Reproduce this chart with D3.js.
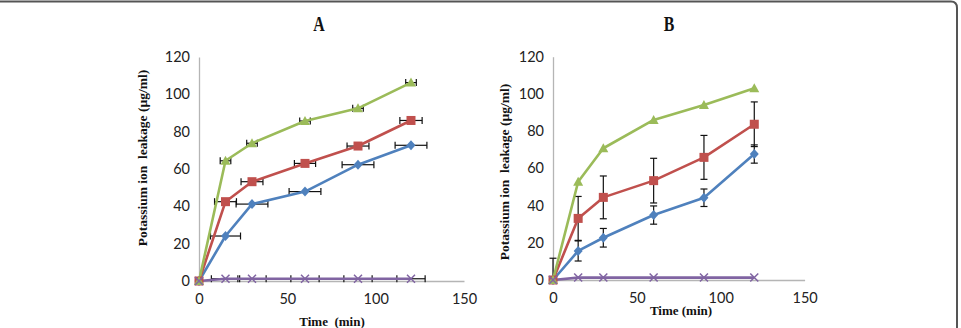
<!DOCTYPE html>
<html><head><meta charset="utf-8">
<script src="https://cdn.jsdelivr.net/npm/d3@7"></script>
<style>body{margin:0;background:#fff;}svg{display:block;} text{white-space:pre;}</style>
</head><body>
<svg id="c" width="961" height="328"></svg>
<script>
const timePoints = [0, 15, 30, 60, 90, 120];
const xTicks = [0, 50, 100, 150];
const yTicks = [0, 20, 40, 60, 80, 100, 120];
const panelTitles = ["A", "B"];
const yLabel = "Potassium ion  leakage (\u00b5g/ml)";
const xLabels = ["Time  (min)", "Time (min)"];

// Panel A values
const aBlue   = [0, 24.1, 41.2, 47.9, 62.3, 72.7];
const aRed    = [0, 42.5, 53.2, 63.0, 72.3, 86.0];
const aGreen  = [0, 64.4, 73.8, 85.7, 92.5, 106.3];
const aPurple = [0, 1.2, 1.2, 1.2, 1.2, 1.2];
// Panel A horizontal error (min)
const aBlueErrX   = [0, 8.5, 9, 9, 9, 9];
const aRedErrX    = [0, 6.2, 6.2, 6, 6.2, 6.3];
const aGreenErrX  = [0, 3, 3, 3, 3, 3];
const aPurpleErrX = [0, 8, 8, 8, 8, 8];

// Panel B values
const bBlue   = [0, 15.6, 22.7, 34.9, 44.2, 67.7];
const bRed    = [0, 33.1, 44.4, 53.4, 65.9, 83.7];
const bGreen  = [0, 52.8, 70.8, 86.0, 94.0, 103.0];
const bPurple = [0, 1.3, 1.3, 1.3, 1.3, 1.3];
// Panel B vertical error
const bBlueErrY = [0, 5.4, 5, 4.9, 4.7, 4.9];
const bRedErrY  = [11.7, 11.8, 11.5, 12, 11.8, 12];

const colors = {blue:"#4F81BD", red:"#C0504D", green:"#9BBB59", purple:"#8064A2"};

const svg = d3.select("#c");

// frame
svg.append("path")
  .attr("d", "M0,1.5 L951,1.5 Q957,1.5 957,8 L957,328")
  .attr("fill","none").attr("stroke","#555").attr("stroke-width",2);

const panels = [
  {title: panelTitles[0], titleX: 319, xr:[199,464], yr:[281,57], xlab: xLabels[0], xlabX: 332, xlabY: 326, ylabX: 147, ylabY: 158,
   series:[
     {vals:aBlue, c:colors.blue, m:"diamond", ex:aBlueErrX},
     {vals:aRed, c:colors.red, m:"square", ex:aRedErrX},
     {vals:aGreen, c:colors.green, m:"triangle", ex:aGreenErrX},
     {vals:aPurple, c:colors.purple, m:"x", ex:aPurpleErrX}
   ]},
  {title: panelTitles[1], titleX: 669, xr:[553,804.6], yr:[280,56.7], xlab: xLabels[1], xlabX: 681, xlabY: 315, ylabX: 509, ylabY: 172,
   series:[
     {vals:bBlue, c:colors.blue, m:"diamond", ey:bBlueErrY},
     {vals:bRed, c:colors.red, m:"square", ey:bRedErrY},
     {vals:bGreen, c:colors.green, m:"triangle"},
     {vals:bPurple, c:colors.purple, m:"x"}
   ]}
];

function marker(g, type, x, y, c){
  if(type==="diamond"){
    g.append("path").attr("d",`M${x},${y-5}L${x+4.5},${y}L${x},${y+5}L${x-4.5},${y}Z`).attr("fill",c);
  } else if(type==="square"){
    g.append("rect").attr("x",x-4.5).attr("y",y-4.5).attr("width",9).attr("height",9).attr("fill",c);
  } else if(type==="triangle"){
    g.append("path").attr("d",`M${x},${y-5}L${x+5},${y+4}L${x-5},${y+4}Z`).attr("fill",c);
  } else {
    g.append("path").attr("d",`M${x-4},${y-4}L${x+4},${y+4}M${x-4},${y+4}L${x+4},${y-4}`).attr("stroke",c).attr("stroke-width",1.5);
  }
}

panels.forEach(p => {
  const x = d3.scaleLinear().domain([0,150]).range(p.xr);
  const y = d3.scaleLinear().domain([0,120]).range(p.yr);
  const g = svg.append("g");

  g.append("text").attr("x",0).attr("y",0)
    .attr("transform",`translate(${p.titleX},31) scale(0.72,1)`)
    .attr("text-anchor","middle")
    .attr("font-family","Liberation Serif").attr("font-weight","bold").attr("font-size",22)
    .attr("fill","#111").text(p.title);

  // axes
  const yAxis = d3.axisLeft(y).tickValues(yTicks).tickSize(0).tickPadding(9);
  const ya = g.append("g").attr("transform",`translate(${p.xr[0]},0)`).call(yAxis);
  const xAxis = d3.axisBottom(x).tickValues(xTicks).tickSize(0).tickPadding(13);
  const xa = g.append("g").attr("transform",`translate(0,${p.yr[0]})`).call(xAxis);
  [ya,xa].forEach(a=>{
    a.select(".domain").attr("stroke","#b5b5b5").attr("stroke-width",1.3);
    a.selectAll("text").attr("font-family","Lato, 'Open Sans', sans-serif").attr("font-size",14.5).attr("fill","#222");
  });

  g.append("text").attr("transform",`translate(${p.ylabX},${p.ylabY}) rotate(-90)`)
    .attr("text-anchor","middle").attr("font-family","Liberation Serif").attr("font-weight","bold")
    .attr("font-size",13.5).attr("fill","#111").text(yLabel);
  g.append("text").attr("x",p.xlabX).attr("y",p.xlabY)
    .attr("text-anchor","middle").attr("font-family","Liberation Serif").attr("font-weight","bold")
    .attr("font-size",13).attr("fill","#111").text(p.xlab);

  const line = d3.line().x((d,i)=>x(timePoints[i])).y(d=>y(d));

  // error bars
  const eg = g.append("g").attr("stroke","#111").attr("stroke-width",1.2);
  p.series.forEach(s=>{
    if(s.ex){
      s.vals.forEach((v,i)=>{
        if(!s.ex[i]) return;
        const x0 = x(timePoints[i]-s.ex[i]), x1 = x(timePoints[i]+s.ex[i]), yy = y(v);
        eg.append("line").attr("x1",x0).attr("x2",x1).attr("y1",yy).attr("y2",yy);
        eg.append("line").attr("x1",x0).attr("x2",x0).attr("y1",yy-3.5).attr("y2",yy+3.5);
        eg.append("line").attr("x1",x1).attr("x2",x1).attr("y1",yy-3.5).attr("y2",yy+3.5);
      });
    }
    if(s.ey){
      s.vals.forEach((v,i)=>{
        if(!s.ey[i]) return;
        const xx = x(timePoints[i]);
        const y0 = y(Math.max(0, v - s.ey[i])), y1 = y(v + s.ey[i]);
        eg.append("line").attr("x1",xx).attr("x2",xx).attr("y1",y0).attr("y2",y1);
        eg.append("line").attr("x1",xx-3.5).attr("x2",xx+3.5).attr("y1",y1).attr("y2",y1);
        if(v - s.ey[i] > 0) eg.append("line").attr("x1",xx-3.5).attr("x2",xx+3.5).attr("y1",y0).attr("y2",y0);
      });
    }
  });

  p.series.forEach(s=>{
    g.append("path").datum(s.vals).attr("d",line).attr("fill","none")
      .attr("stroke",s.c).attr("stroke-width",2.6).attr("stroke-linejoin","round");
  });
  p.series.forEach(s=>{
    s.vals.forEach((v,i)=>marker(g, s.m, x(timePoints[i]), y(v), s.c));
  });
});
</script>
</body></html>
